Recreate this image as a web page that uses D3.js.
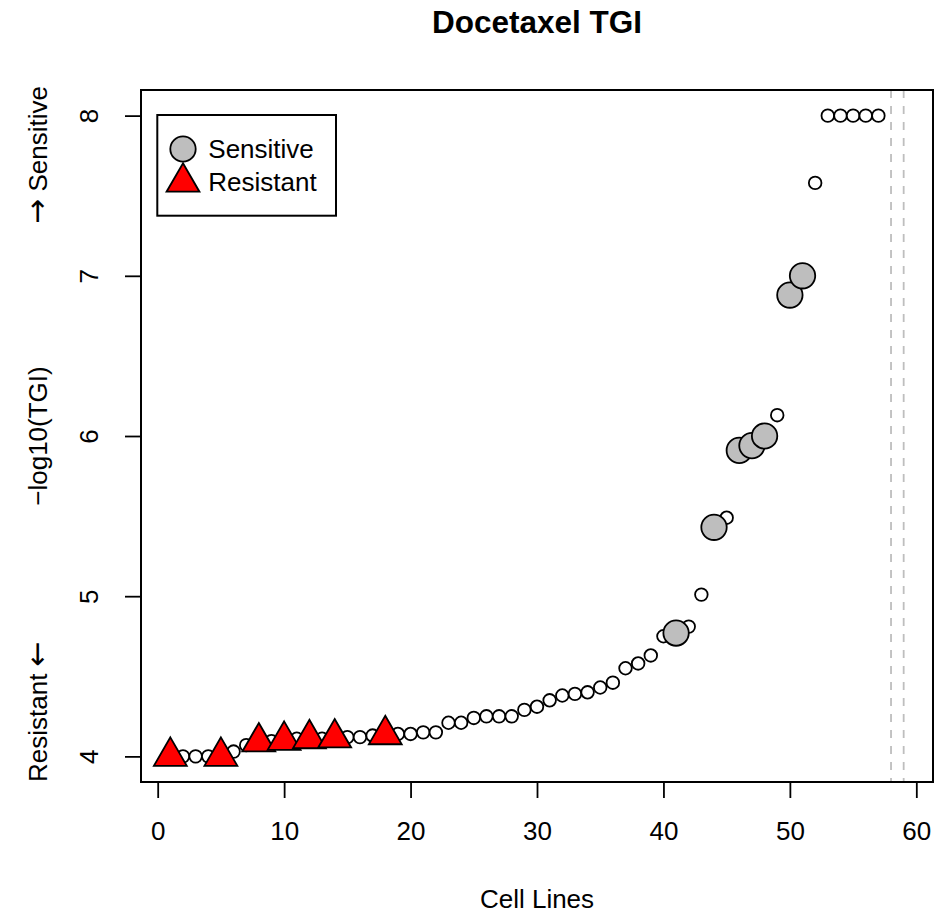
<!DOCTYPE html>
<html>
<head>
<meta charset="utf-8">
<script src="https://cdn.jsdelivr.net/npm/d3@7"></script>
<style>
  body { margin: 0; background: #fff; }
  text { font-family: "Liberation Sans", Arial, sans-serif; fill: #000; }
  .arrow { font-family: "Noto Sans", "DejaVu Sans", sans-serif; font-size: 30px; }
</style>
</head>
<body>
<script>
// values, cell lines 1..57 sorted by -log10(TGI)
var tgi = [4.00, 4.00, 4.00, 4.00, 4.00, 4.03, 4.07, 4.09, 4.095, 4.10,
           4.11, 4.11, 4.11, 4.115, 4.12, 4.12, 4.13, 4.135, 4.14, 4.14,
           4.15, 4.15, 4.21, 4.21, 4.24, 4.25, 4.25, 4.25, 4.29, 4.31,
           4.35, 4.38, 4.39, 4.40, 4.43, 4.46, 4.55, 4.58, 4.63, 4.75,
           4.77, 4.81, 5.01, 5.43, 5.49, 5.91, 5.94, 6.00, 6.13, 6.88,
           7.00, 7.58, 8.00, 8.00, 8.00, 8.00, 8.00];
var sensitive = [41, 44, 46, 47, 48, 50, 51];
var resistant = [1, 5, 8, 10, 12, 14, 18];
var cutLines = [58, 59];
var xTicks = [0, 10, 20, 30, 40, 50, 60];
var yTicks = [4, 5, 6, 7, 8];
var legendLabels = ["Sensitive", "Resistant"];

var W = 935, H = 916;
var plot = {left: 141, right: 933, top: 90, bottom: 782};

var svg = d3.select("body").append("svg")
    .attr("width", W)
    .attr("height", H);

var x = d3.scaleLinear().domain([-1.32, 61.32]).range([plot.left, plot.right]);
var y = d3.scaleLinear().domain([3.84, 8.16]).range([plot.bottom, plot.top]);

// dashed cut lines
svg.selectAll("line.cut")
  .data(cutLines)
  .enter().append("line")
    .attr("class", "cut")
    .attr("x1", function(d) { return x(d); })
    .attr("x2", function(d) { return x(d); })
    .attr("y1", plot.top)
    .attr("y2", plot.bottom)
    .attr("stroke", "#bebebe")
    .attr("stroke-width", 1.8)
    .attr("stroke-dasharray", "8,8");

// all cell lines as small open circles
svg.selectAll("circle.cl")
  .data(tgi)
  .enter().append("circle")
    .attr("class", "cl")
    .attr("cx", function(d, i) { return x(i + 1); })
    .attr("cy", function(d) { return y(d); })
    .attr("r", 6.3)
    .attr("fill", "#fff")
    .attr("stroke", "#000")
    .attr("stroke-width", 1.8);

// sensitive: big grey circles
svg.selectAll("circle.sens")
  .data(sensitive)
  .enter().append("circle")
    .attr("class", "sens")
    .attr("cx", function(d) { return x(d); })
    .attr("cy", function(d) { return y(tgi[d - 1]); })
    .attr("r", 12.7)
    .attr("fill", "#bebebe")
    .attr("stroke", "#000")
    .attr("stroke-width", 1.8);

// triangle like R pch 24
function tri(cx, cy, r) {
  var hw = r * 0.866;
  return "M" + cx + "," + (cy - r) +
         "L" + (cx + hw) + "," + (cy + r / 2) +
         "L" + (cx - hw) + "," + (cy + r / 2) + "Z";
}

svg.selectAll("path.res")
  .data(resistant)
  .enter().append("path")
    .attr("class", "res")
    .attr("d", function(d) { return tri(x(d), y(tgi[d - 1]), 19); })
    .attr("fill", "#ff0000")
    .attr("stroke", "#000")
    .attr("stroke-width", 1.8)
    .attr("stroke-linejoin", "miter");

// box
svg.append("rect")
    .attr("x", plot.left)
    .attr("y", plot.top)
    .attr("width", plot.right - plot.left)
    .attr("height", plot.bottom - plot.top)
    .attr("fill", "none")
    .attr("stroke", "#000")
    .attr("stroke-width", 2);

// x axis
var gx = svg.append("g")
    .attr("transform", "translate(0," + plot.bottom + ")")
    .call(d3.axisBottom(x).tickValues(xTicks).tickSize(16).tickPadding(24).tickSizeOuter(0));
gx.select(".domain").remove();
gx.selectAll("line").attr("stroke", "#000").attr("stroke-width", 1.8);
gx.selectAll("text").style("font-size", "26px").attr("fill", "#000");

// y axis, labels turned like R las=0
var gy = svg.append("g")
    .attr("transform", "translate(" + plot.left + ",0)")
    .call(d3.axisLeft(y).tickValues(yTicks).tickFormat(d3.format("d")).tickSize(16).tickSizeOuter(0));
gy.select(".domain").remove();
gy.selectAll("line").attr("stroke", "#000").attr("stroke-width", 1.8);
gy.selectAll("text")
    .attr("x", null)
    .attr("dy", null)
    .attr("transform", "translate(-43.5,0) rotate(-90)")
    .attr("text-anchor", "middle")
    .style("font-size", "26px")
    .attr("fill", "#000");

// titles
svg.append("text")
    .attr("x", (plot.left + plot.right) / 2)
    .attr("y", 33)
    .attr("text-anchor", "middle")
    .style("font-size", "31.5px")
    .style("font-weight", "bold")
    .text("Docetaxel TGI");

svg.append("text")
    .attr("x", (plot.left + plot.right) / 2)
    .attr("y", 908)
    .attr("text-anchor", "middle")
    .style("font-size", "26px")
    .text("Cell Lines");

var yl = 47;
svg.append("text")
    .attr("transform", "translate(" + yl + "," + (plot.top + plot.bottom) / 2 + ") rotate(-90)")
    .attr("text-anchor", "middle")
    .style("font-size", "26px")
    .text("\u2212log10(TGI)");

var rt = svg.append("text")
    .attr("transform", "translate(" + yl + "," + plot.bottom + ") rotate(-90)")
    .attr("text-anchor", "start")
    .style("font-size", "26px");
rt.append("tspan").text("Resistant ");
rt.append("tspan").attr("class", "arrow").text("\u2190");

var st = svg.append("text")
    .attr("transform", "translate(" + yl + "," + (plot.top - 4) + ") rotate(-90)")
    .attr("text-anchor", "end")
    .style("font-size", "26px");
st.append("tspan").attr("class", "arrow").text("\u2192");
st.append("tspan").text(" Sensitive");

// legend
var lg = svg.append("g");
lg.append("rect")
    .attr("x", 157.3).attr("y", 115)
    .attr("width", 178.7).attr("height", 100.7)
    .attr("fill", "#fff")
    .attr("stroke", "#000")
    .attr("stroke-width", 2);

lg.append("circle")
    .attr("cx", 183).attr("cy", 149)
    .attr("r", 12.7)
    .attr("fill", "#bebebe")
    .attr("stroke", "#000")
    .attr("stroke-width", 1.8);

lg.append("path")
    .attr("d", tri(183, 182.2, 19))
    .attr("fill", "#ff0000")
    .attr("stroke", "#000")
    .attr("stroke-width", 1.8);

lg.selectAll("text")
  .data(legendLabels)
  .enter().append("text")
    .attr("x", 208.3)
    .attr("y", function(d, i) { return 158.3 + i * 33; })
    .style("font-size", "26px")
    .text(function(d) { return d; });
</script>
</body>
</html>
